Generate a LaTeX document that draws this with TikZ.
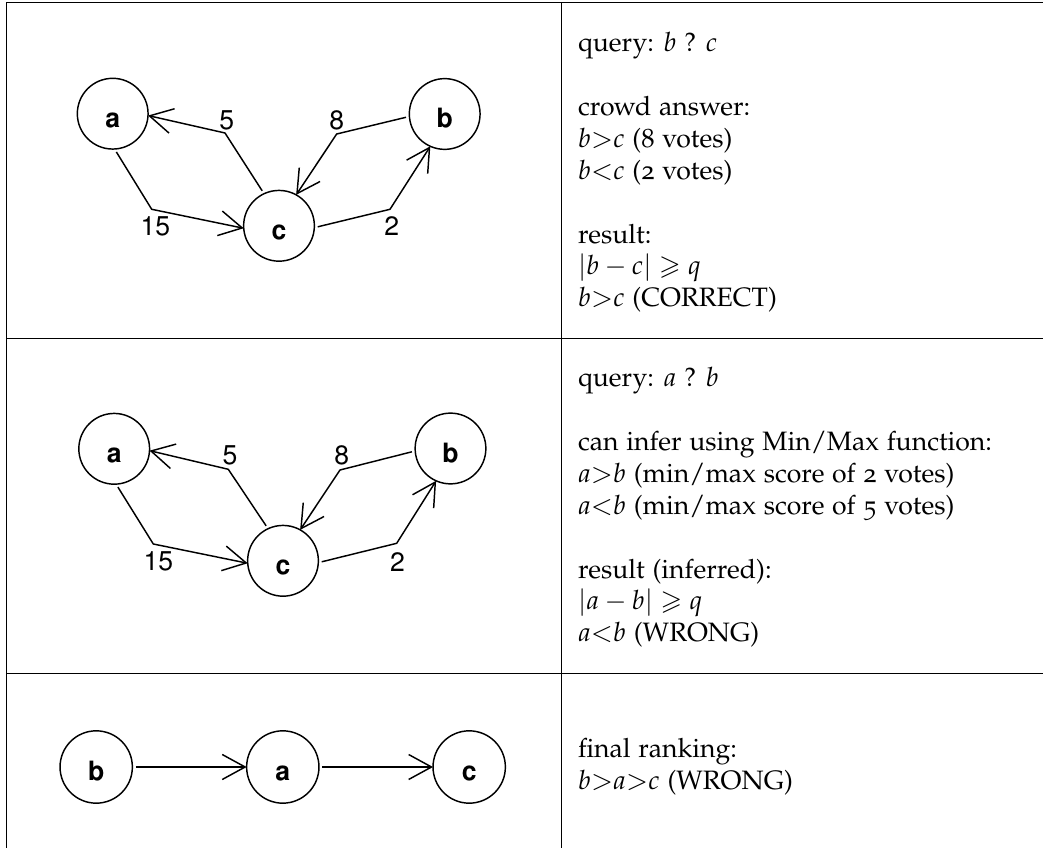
\documentclass[tikz,border=0pt]{standalone}
\usepackage[T1]{fontenc}
\usepackage[osf]{mathpazo}
\usepackage{amssymb}
\usetikzlibrary{arrows.meta}
\newcommand{\diagsans}{\fontfamily{phv}\fontsize{10}{12}\selectfont}
\begin{document}
\begin{tikzpicture}[x=0.376pt,y=-0.376pt,
  vtx/.style={circle, draw, line width=0.55pt, minimum size=26.6pt, inner sep=0pt, outer sep=0pt, text height=10.2pt, text depth=0pt, font=\diagsans\bfseries},
  conn/.style={line width=0.55pt, line join=round, shorten <=1.3pt, -{Straight Barb[length=8.6pt,width=9.4pt]}},
  num/.style={inner sep=0pt, font=\diagsans},
  txt/.style={anchor=base west, inner sep=0pt, font=\fontsize{10}{12}\selectfont},
  rule/.style={line width=0.45pt}]
\useasboundingbox (0,0) rectangle (1043,848);
% table rules
\draw[rule] (6.3,2.7) -- (1043,2.7);
\draw[rule] (6.3,2.7) -- (6.3,848);
\draw[rule] (561.7,2.7) -- (561.7,848);
\draw[rule] (6.3,338.3) -- (1043,338.3);
\draw[rule] (6.3,673.3) -- (1043,673.3);

% ---------- row 1 ----------
\node[vtx] (a1) at (112.7,113.7) {a};
\node[vtx] (b1) at (444.7,114) {b};
\node[vtx] (c1) at (279,225.8) {c};
\coordinate (ca1) at (225,133);
\coordinate (ac1) at (151.7,209.3);
\coordinate (bc1) at (336.7,134);
\coordinate (cb1) at (390,209.3);
\draw[conn] (c1.115) -- (ca1) -- (a1.-3);
\draw[conn] (a1.-87) -- (ac1) -- (c1.184);
\draw[conn] (b1.184) -- (bc1) -- (c1.61);
\draw[conn] (c1.-3) -- (cb1) -- (b1.246);
\node[num] (n5a) at (226.7,121.2) {5};
\node[num] (n8a) at (336.7,120.3) {8};
\node[num] (n15a) at (155.3,226.2) {15};
\node[num] (n2a) at (391.7,225.8) {2};

\node[txt] (t11) at (577.5,51.7) {query: $b$ ? $c$};
\node[txt] (t12) at (577.5,115.5) {crowd answer:};
\node[txt] (t13) at (577.5,147.4) {$b{>}c$ (8 votes)};
\node[txt] (t14) at (577.5,179.3) {$b{<}c$ (2 votes)};
\node[txt] (t15) at (577.5,243.1) {result:};
\node[txt] (t16) at (577.5,275) {$|b-c| \geqslant q$};
\node[txt] (t17) at (577.5,306.9) {$b{>}c$ (CORRECT)};

% ---------- row 2 ----------
\node[vtx] (a2) at (114.2,448.8) {a};
\node[vtx] (b2) at (450.5,448.5) {b};
\node[vtx] (c2) at (283,560.8) {c};
\coordinate (ca2) at (228.3,469.3);
\coordinate (ac2) at (153.3,544);
\coordinate (bc2) at (340,470);
\coordinate (cb2) at (396.7,543.3);
\draw[conn] (c2.115) -- (ca2) -- (a2.-3);
\draw[conn] (a2.-87) -- (ac2) -- (c2.184);
\draw[conn] (b2.184) -- (bc2) -- (c2.61);
\draw[conn] (c2.-3) -- (cb2) -- (b2.246);
\node[num] (n5b) at (230,455.7) {5};
\node[num] (n8b) at (341.7,455.7) {8};
\node[num] (n15b) at (158.3,561.7) {15};
\node[num] (n2b) at (397.5,561.7) {2};

\node[txt] (t21) at (577.5,386.7) {query: $a$ ? $b$};
\node[txt] (t22) at (577.5,450.5) {can infer using Min/Max function:};
\node[txt] (t23) at (577.5,482.4) {$a{>}b$ (min/max score of 2 votes)};
\node[txt] (t24) at (577.5,514.3) {$a{<}b$ (min/max score of 5 votes)};
\node[txt] (t25) at (577.5,578.1) {result (inferred):};
\node[txt] (t26) at (577.5,610) {$|a-b| \geqslant q$};
\node[txt] (t27) at (577.5,641.9) {$a{<}b$ (WRONG)};

% ---------- row 3 ----------
\node[vtx, minimum size=27.2pt] (b3) at (96.2,767) {b};
\node[vtx, minimum size=27.2pt] (a3) at (282.8,767) {a};
\node[vtx, minimum size=27.2pt] (c3) at (469.2,767) {c};
\draw[conn] (b3) -- (a3);
\draw[conn] (a3) -- (c3);

\node[txt] (t31) at (577.5,757.3) {final ranking:};
\node[txt] (t32) at (577.5,789.2) {$b{>}a{>}c$ (WRONG)};
\end{tikzpicture}
\end{document}
